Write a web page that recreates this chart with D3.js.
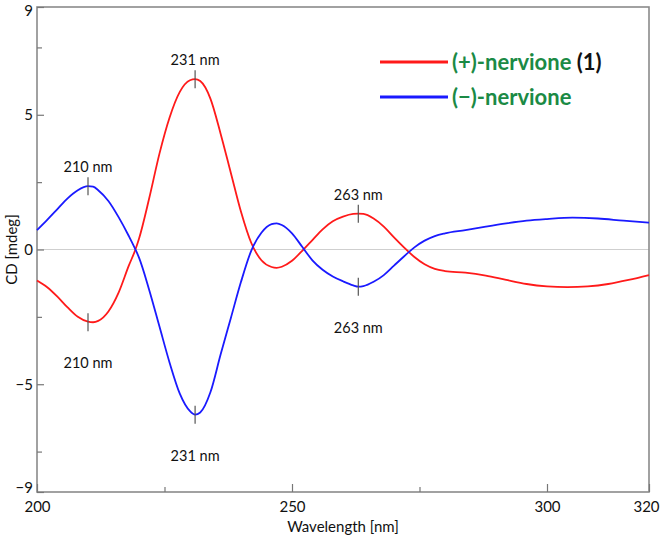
<!DOCTYPE html>
<html>
<head>
<meta charset="utf-8">
<script src="https://cdn.jsdelivr.net/npm/d3@7"></script>
<style>
  body { margin: 0; background: #fff; }
  text { font-family: Lato, "Open Sans", sans-serif; }
</style>
</head>
<body>
<script>
var w = 661;
var h = 538;
var margin = { left: 37, right: 12, top: 7, bottom: 46 };

// wavelength grid (nm) and CD values (mdeg)
var wlPlus = [200, 202, 204, 206, 208, 210, 211, 212, 214, 216, 218, 219.3, 220, 222, 224, 226, 228, 230, 231, 232, 234, 236, 238, 240, 242, 244, 246, 247, 248, 250, 252, 254, 256, 258, 260, 262, 263, 264, 266, 268, 270, 272, 274, 276, 278, 280, 284, 288, 292, 296, 300, 304, 308, 312, 316, 320];
var cdPlus = [-1.15, -1.4, -1.75, -2.15, -2.5, -2.68, -2.7, -2.65, -2.3, -1.6, -0.6, 0, 0.4, 1.9, 3.55, 4.9, 5.85, 6.28, 6.32, 6.25, 5.6, 4.3, 2.85, 1.4, 0.25, -0.4, -0.65, -0.68, -0.64, -0.42, -0.05, 0.35, 0.75, 1.05, 1.22, 1.32, 1.33, 1.32, 1.15, 0.85, 0.45, 0.07, -0.28, -0.55, -0.72, -0.8, -0.86, -0.97, -1.13, -1.28, -1.37, -1.4, -1.37, -1.28, -1.13, -0.95];

var wlMinus = [200, 202, 204, 206, 208, 210, 211, 212, 214, 216, 218, 219.3, 220, 222, 224, 226, 228, 230, 231, 232, 234, 236, 238, 240, 242, 244, 246, 247, 248, 250, 252, 254, 256, 258, 260, 262, 263, 264, 266, 268, 270, 272, 274, 276, 278, 280, 284, 288, 292, 296, 300, 305, 310, 315, 320];
var cdMinus = [0.72, 1.1, 1.5, 1.9, 2.2, 2.35, 2.33, 2.2, 1.8, 1.2, 0.5, 0, -0.3, -1.5, -2.85, -4.2, -5.35, -6.0, -6.13, -6.05, -5.3, -3.9, -2.55, -1.2, -0.05, 0.62, 0.94, 0.97, 0.91, 0.6, 0.1, -0.4, -0.75, -1.0, -1.18, -1.33, -1.38, -1.36, -1.2, -0.95, -0.6, -0.25, 0.08, 0.33, 0.5, 0.6, 0.72, 0.85, 0.97, 1.07, 1.13, 1.18, 1.15, 1.07, 1.0];

// annotated extrema: wavelength, value, side
var peakWl = [210, 210, 231, 231, 263, 263];
var peakCd = [2.35, -2.7, 6.32, -6.13, 1.33, -1.38];
var peakSide = ["up", "down", "up", "down", "up", "down"];

var xTicks = [200, 250, 300, 320];
var xMinor = [225, 275];
var yTicks = [9, 5, 0, -5, -9];
var yMinor = [7.5, 2.5, -2.5, -7.5];

var seriesNames = ["(+)-nervione", "(\u2212)-nervione"];
var seriesColors = ["#ff1a1a", "#1a1aff"];

var xScale = d3.scaleLinear().domain([200, 320]).range([margin.left, w - margin.right]);
var yScale = d3.scaleLinear().domain([-9, 9]).range([h - margin.bottom, margin.top]);

var svg = d3.select("body").append("svg").attr("width", w).attr("height", h);

// zero line
svg.append("line")
  .attr("x1", xScale(200)).attr("x2", xScale(320))
  .attr("y1", yScale(0)).attr("y2", yScale(0))
  .attr("stroke", "#cfcfcf").attr("stroke-width", 1);

// frame
svg.append("rect")
  .attr("x", xScale(200)).attr("y", yScale(9))
  .attr("width", xScale(320) - xScale(200))
  .attr("height", yScale(-9) - yScale(9))
  .attr("fill", "none").attr("stroke", "#8a8a8a").attr("stroke-width", 1.6);

// axes
var xAxis = d3.axisBottom(xScale).tickValues(xTicks).tickSize(-8).tickPadding(9).tickFormat(d3.format("d"));
var xAxisMinor = d3.axisBottom(xScale).tickValues(xMinor).tickSize(-5).tickFormat("");
var yAxis = d3.axisLeft(yScale).tickValues(yTicks).tickSize(-7).tickPadding(4).tickFormat(d3.format("d"));
var yAxisMinor = d3.axisLeft(yScale).tickValues(yMinor).tickSize(-5).tickFormat("");

function styleAxis(g) {
  g.select(".domain").remove();
  g.selectAll("line").attr("stroke", "#777").attr("stroke-width", 1.2);
  g.selectAll("text").attr("fill", "#111").style("font-size", "15px");
}

svg.append("g").attr("transform", `translate(0,${yScale(-9)})`).call(xAxis).call(styleAxis)
  .selectAll("text").attr("dx", function (d) { return d === 320 ? "-3" : "0"; });
svg.append("g").attr("transform", `translate(0,${yScale(-9)})`).call(xAxisMinor).call(styleAxis);
svg.append("g").attr("transform", `translate(${xScale(200)},0)`).call(yAxis).call(styleAxis)
  .selectAll("text").attr("dy", function (d) {
    if (d === 9) return "0.55em";
    if (d === -9) return "0.05em";
    return "0.32em";
  });
svg.append("g").attr("transform", `translate(${xScale(200)},0)`).call(yAxisMinor).call(styleAxis);

// axis titles
svg.append("text")
  .attr("x", (xScale(200) + xScale(320)) / 2).attr("y", 532)
  .attr("text-anchor", "middle").attr("fill", "#111")
  .style("font-size", "15px").text("Wavelength [nm]");

svg.append("text")
  .attr("transform", `translate(12,${yScale(0)}) rotate(-90)`)
  .attr("text-anchor", "middle").attr("dy", "0.35em").attr("fill", "#111")
  .style("font-size", "15px").text("CD [mdeg]");

// curves
var line = d3.line()
  .x(function (d) { return xScale(d[0]); })
  .y(function (d) { return yScale(d[1]); })
  .curve(d3.curveMonotoneX);

var plusData = d3.zip(wlPlus, cdPlus);
var minusData = d3.zip(wlMinus, cdMinus);

svg.append("path").datum(plusData).attr("d", line)
  .attr("fill", "none").attr("stroke", seriesColors[0]).attr("stroke-width", 1.8);
svg.append("path").datum(minusData).attr("d", line)
  .attr("fill", "none").attr("stroke", seriesColors[1]).attr("stroke-width", 1.8);

// peak markers + labels
var peaks = d3.range(peakWl.length).map(function (i) {
  return { wl: peakWl[i], cd: peakCd[i], side: peakSide[i] };
});

svg.selectAll(".pk").data(peaks).enter().append("line")
  .attr("class", "pk")
  .attr("x1", function (d) { return xScale(d.wl); })
  .attr("x2", function (d) { return xScale(d.wl); })
  .attr("y1", function (d) { return yScale(d.cd) - 9; })
  .attr("y2", function (d) { return yScale(d.cd) + 9; })
  .attr("stroke", "#555").attr("stroke-width", 1.2);

svg.selectAll(".pklabel").data(peaks).enter().append("text")
  .attr("class", "pklabel")
  .attr("x", function (d) { return xScale(d.wl); })
  .attr("y", function (d) {
    return d.side === "up" ? yScale(d.cd) - 19 : yScale(d.cd) + 41;
  })
  .attr("dy", "0.35em")
  .attr("text-anchor", "middle").attr("fill", "#111")
  .style("font-size", "14.5px")
  .text(function (d) { return d.wl + " nm"; });

// legend
var legend = svg.append("g");
var legendY = [62, 97];
seriesNames.forEach(function (name, i) {
  legend.append("line")
    .attr("x1", 380).attr("x2", 448)
    .attr("y1", legendY[i]).attr("y2", legendY[i])
    .attr("stroke", seriesColors[i]).attr("stroke-width", 3);
  var t = legend.append("text")
    .attr("x", 452).attr("y", legendY[i]).attr("dy", "0.35em")
    .style("font-family", "Lato, sans-serif")
    .style("font-size", "22px").style("font-weight", "bold");
  t.append("tspan").attr("fill", "#1b8a45").text(name);
  if (i === 0) {
    t.append("tspan").attr("fill", "#111").text(" (1)");
  }
});
</script>
</body>
</html>
